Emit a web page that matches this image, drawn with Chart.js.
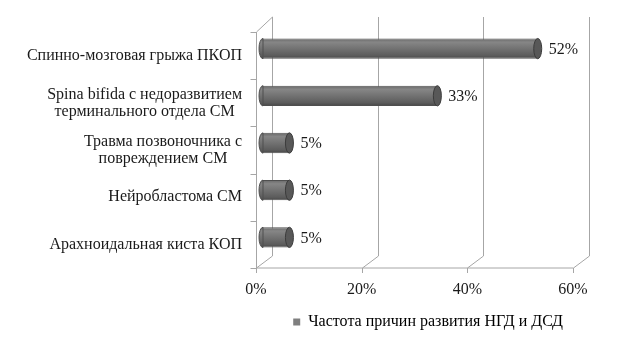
<!DOCTYPE html>
<html lang="ru">
<head>
  <meta charset="UTF-8">
  <title>Частота причин развития НГД и ДСД</title>
  <script src="https://cdn.jsdelivr.net/npm/chart.js"></script>
  <style>
    body {
      margin: 0;
      background: #fff;
      font-family: "Liberation Serif", serif;
    }
    canvas {
      display: block;
    }
    #probe {
      position: absolute;
      left: -1000px;
      font: 16px "Liberation Serif";
    }
  </style>
</head>
<body>

  <span id="probe">Частота</span>
  <canvas id="chart" width="623" height="349"></canvas>

  <script>
    const categories = [
      'Спинно-мозговая грыжа ПКОП',
      ['Spina bifida с недоразвитием', 'терминального отдела СМ'],
      ['Травма позвоночника с', 'повреждением СМ'],
      'Нейробластома СМ',
      'Арахноидальная киста КОП'
    ];
    const values = [52, 33, 5, 5, 5];
    const xTicks = [0, 20, 40, 60];
    const seriesName = 'Частота причин развития НГД и ДСД';

    const FONT = "'Liberation Serif'";
    const depthX = 16, depthY = 12;   // back wall offset
    const barShiftX = 7, barShiftY = -7;
    const capRx = 4;

    function cylGrad(ctx, top, bottom) {
      const g = ctx.createLinearGradient(0, top, 0, bottom);
      g.addColorStop(0, '#6a6a6a');
      g.addColorStop(0.18, '#868686');
      g.addColorStop(0.5, '#727272');
      g.addColorStop(0.85, '#5c5c5c');
      g.addColorStop(1, '#484848');
      return g;
    }

    // 3D walls, floor, axis ticks and category labels
    const wallsPlugin = {
      id: 'walls',
      beforeDatasetsDraw(chart) {
        const { ctx, chartArea: ca, scales } = chart;
        const xs = scales.x, ys = scales.y;
        const backTop = ca.top - 15;
        ctx.save();
        ctx.strokeStyle = '#a6a6a6';
        ctx.lineWidth = 1;
        ctx.beginPath();
        xTicks.forEach(v => {
          const x = Math.round(xs.getPixelForValue(v)) + 0.5;
          ctx.moveTo(x + depthX, backTop);
          ctx.lineTo(x + depthX, ca.bottom - depthY);
          ctx.lineTo(x, ca.bottom);
          ctx.moveTo(x, ca.bottom);
          ctx.lineTo(x, ca.bottom + 5);
        });
        const l = Math.round(ca.left) + 0.5;
        ctx.moveTo(l, ca.bottom);
        ctx.lineTo(Math.round(xs.getPixelForValue(60)) + 0.5, ca.bottom);
        ctx.moveTo(l, ca.bottom);
        ctx.lineTo(l, ca.top);
        ctx.lineTo(l + depthX, backTop);
        const band = (ca.bottom - ca.top) / categories.length;
        for (let i = 0; i <= categories.length; i++) {
          const y = Math.round(ca.top + i * band) + 0.5;
          ctx.moveTo(l - 6, y);
          ctx.lineTo(l, y);
        }
        ctx.stroke();

        // category labels, lines centred, block right-aligned
        ctx.fillStyle = '#1a1a1a';
        ctx.font = '16px ' + FONT;
        ctx.textAlign = 'center';
        ctx.textBaseline = 'middle';
        const right = ca.left - 14;
        categories.forEach((c, i) => {
          const lines = Array.isArray(c) ? c : [c];
          const w = Math.max(...lines.map(s => ctx.measureText(s).width));
          const y = ys.getPixelForValue(i);
          lines.forEach((s, j) => {
            ctx.fillText(s, right - w / 2, y + (j - (lines.length - 1) / 2) * 17);
          });
        });
        ctx.restore();

        ctx.save();
        ctx.translate(barShiftX, barShiftY);
      },
      afterDatasetsDraw(chart) {
        const { ctx } = chart;
        const meta = chart.getDatasetMeta(0);
        meta.data.forEach((bar, i) => {
          const { x, y, base, height } = bar.getProps(['x', 'y', 'base', 'height'], true);
          const ry = height / 2;
          // rounded left side
          ctx.beginPath();
          ctx.ellipse(base, y, capRx, ry, 0, Math.PI / 2, Math.PI * 1.5);
          ctx.closePath();
          ctx.fillStyle = cylGrad(ctx, y - ry, y + ry);
          ctx.fill();
          ctx.strokeStyle = '#4f4f4f';
          ctx.stroke();
          // end face
          ctx.beginPath();
          ctx.ellipse(x, y, capRx, ry, 0, 0, Math.PI * 2);
          ctx.fillStyle = '#585858';
          ctx.fill();
          ctx.strokeStyle = '#3c3c3c';
          ctx.stroke();
          // value label
          ctx.fillStyle = '#1a1a1a';
          ctx.font = '16px ' + FONT;
          ctx.textAlign = 'left';
          ctx.textBaseline = 'middle';
          ctx.fillText(values[i] + '%', x + capRx + 7, y + 1);
        });
        ctx.restore();
      }
    };

    function draw() {
      new Chart(document.getElementById('chart'), {
        type: 'bar',
        data: {
          labels: categories,
          datasets: [{
            label: seriesName,
            data: values,
            backgroundColor: c => {
              const ch = c.chart;
              if (!ch.chartArea || c.dataIndex === undefined) return '#777777';
              const y = ch.scales.y.getPixelForValue(c.dataIndex);
              return cylGrad(ch.ctx, y - 10, y + 10);
            },
            borderColor: '#4f4f4f',
            borderWidth: 1,
            barPercentage: 0.43,
            categoryPercentage: 1,
            clip: false
          }]
        },
        options: {
          indexAxis: 'y',
          responsive: false,
          animation: false,
          layout: {
            padding: { top: 32, right: 50, left: 0, bottom: 9 }
          },
          scales: {
            x: {
              min: 0,
              max: 60,
              afterBuildTicks: s => { s.ticks = xTicks.map(v => ({ value: v })); },
              afterFit: s => { s.height = 36; },
              ticks: {
                callback: v => v + '%',
                font: { family: FONT, size: 16 },
                color: '#1a1a1a',
                padding: 4,
                maxRotation: 0
              },
              grid: { display: false },
              border: { display: false }
            },
            y: {
              ticks: { display: false },
              grid: { display: false },
              border: { display: false },
              afterFit: s => { s.width = 256; }
            }
          },
          plugins: {
            legend: {
              position: 'bottom',
              align: 'end',
              labels: {
                boxWidth: 7,
                boxHeight: 7,
                font: { family: FONT, size: 16 },
                color: '#1a1a1a',
                generateLabels: () => [{
                  text: seriesName,
                  fillStyle: '#7f7f7f',
                  strokeStyle: '#7f7f7f',
                  lineWidth: 0,
                  hidden: false,
                  datasetIndex: 0
                }]
              }
            },
            tooltip: { enabled: false }
          }
        },
        plugins: [wallsPlugin]
      });
    }

    if (document.fonts && document.fonts.load) {
      document.fonts.load('16px "Liberation Serif"').then(draw, draw);
    } else {
      draw();
    }
  </script>

</body>
</html>
